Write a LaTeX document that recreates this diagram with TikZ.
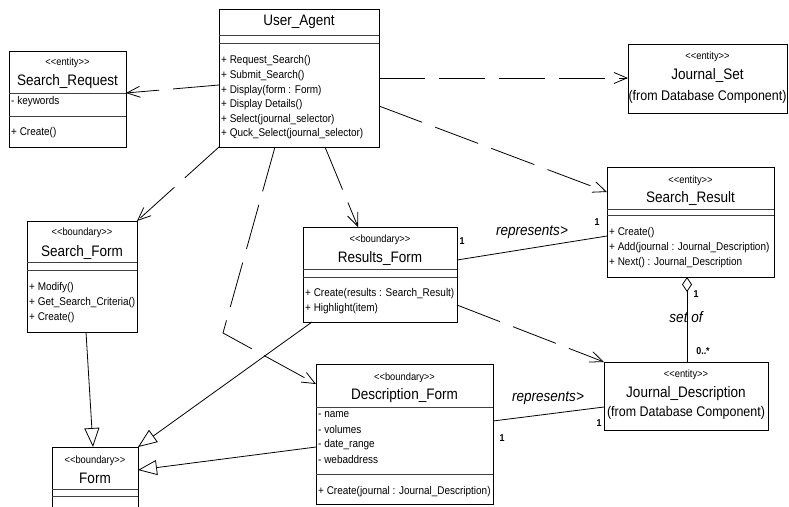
\documentclass[tikz,border=0pt]{standalone}
\usepackage{fontspec}
\setmainfont[FakeStretch=0.89]{Liberation Sans}
\usetikzlibrary{arrows.meta,calc}
\begin{document}
\begin{tikzpicture}[x=1pt,y=-1pt,
  classbox/.style={draw, line width=1pt, anchor=north west, inner sep=0pt, outer sep=0pt},
  divider/.style={line width=1pt, draw=black!75},
  stereo/.style={font=\fontsize{10.5}{12}\selectfont, inner sep=0pt},
  cname/.style={font=\fontsize{15.2}{18}\selectfont, inner sep=0pt},
  origin/.style={font=\fontsize{14}{16}\selectfont, inner sep=0pt},
  member/.style={font=\fontsize{11.2}{13}\selectfont, inner sep=0pt, anchor=west},
  mult/.style={font=\bfseries\fontsize{10}{12}\selectfont, inner sep=0pt},
  role/.style={font=\itshape\fontsize{15.2}{18}\selectfont, inner sep=0pt},
  dep/.style={line width=0.8pt, dash pattern=on 46pt off 14pt,
              -{Straight Barb[length=13pt,width=11pt]}},
  gen/.style={line width=0.8pt, -{Triangle[open,length=19pt,width=15pt]}},
  assoc/.style={line width=0.8pt},
  aggr/.style={line width=0.8pt, {Diamond[open,length=15pt,width=10pt]}-}]
\useasboundingbox (0,0) rectangle (789,506);
\clip (0,0) rectangle (789,506);
\fill[white] (0,0) rectangle (789,506);

% ---------- User_Agent ----------
\node[classbox, minimum width=160pt, minimum height=138pt] (ua) at (219,9) {};
\draw[divider] ($(ua.north west)+(0,26)$) -- ($(ua.north east)+(0,26)$);
\draw[divider] ($(ua.north west)+(0,34)$) -- ($(ua.north east)+(0,34)$);
\node[cname] (ua-n) at (299,22) {User\_Agent};
\foreach \t [count=\i from 0] in {{+ Request\_Search()},{+ Submit\_Search()},
  {+ Display(form : Form)},{+ Display Details()},{+ Select(journal\_selector)},
  {+ Quck\_Select(journal\_selector)}}
  \node[member] (ua-m\i) at (221,{61+14.6*\i}) {\t};

% ---------- Search_Request ----------
\node[classbox, minimum width=117pt, minimum height=96pt] (sreq) at (9,51) {};
\draw[divider] ($(sreq.north west)+(0,42)$) -- ($(sreq.north east)+(0,42)$);
\draw[divider] ($(sreq.north west)+(0,65)$) -- ($(sreq.north east)+(0,65)$);
\node[stereo] (sreq-s) at (67.5,63) {<{}<entity>{}>};
\node[cname] (sreq-n) at (67.5,82) {Search\_Request};
\node[member] (sreq-a) at (11,102) {- keywords};
\node[member] (sreq-m) at (11,133) {+ Create()};

% ---------- Journal_Set ----------
\node[classbox, minimum width=159pt, minimum height=69pt] (js) at (628,44) {};
\node[stereo] (js-s) at (707.5,57) {<{}<entity>{}>};
\node[cname] (js-n) at (707.5,76) {Journal\_Set};
\node[origin] (js-o) at (707.5,97) {(from Database Component)};

% ---------- Search_Result ----------
\node[classbox, minimum width=167pt, minimum height=110pt] (sres) at (607,167) {};
\draw[divider] ($(sres.north west)+(0,42)$) -- ($(sres.north east)+(0,42)$);
\draw[divider] ($(sres.north west)+(0,48)$) -- ($(sres.north east)+(0,48)$);
\node[stereo] (sres-s) at (690.5,181) {<{}<entity>{}>};
\node[cname] (sres-n) at (690.5,198) {Search\_Result};
\foreach \t [count=\i from 0] in {{+ Create()},{+ Add(journal : Journal\_Description)},
  {+ Next() : Journal\_Description}}
  \node[member] (sres-m\i) at (609,{232.5+15.2*\i}) {\t};

% ---------- Search_Form ----------
\node[classbox, minimum width=110pt, minimum height=111pt] (sform) at (27,221) {};
\draw[divider] ($(sform.north west)+(0,41)$) -- ($(sform.north east)+(0,41)$);
\draw[divider] ($(sform.north west)+(0,49)$) -- ($(sform.north east)+(0,49)$);
\node[stereo] (sform-s) at (82,233) {<{}<boundary>{}>};
\node[cname] (sform-n) at (82,252) {Search\_Form};
\foreach \t [count=\i from 0] in {{+ Modify()},{+ Get\_Search\_Criteria()},{+ Create()}}
  \node[member] (sform-m\i) at (29,{288+15*\i}) {\t};

% ---------- Results_Form ----------
\node[classbox, minimum width=154pt, minimum height=95pt] (rform) at (303,227) {};
\draw[divider] ($(rform.north west)+(0,42)$) -- ($(rform.north east)+(0,42)$);
\draw[divider] ($(rform.north west)+(0,50)$) -- ($(rform.north east)+(0,50)$);
\node[stereo] (rform-s) at (380,239.5) {<{}<boundary>{}>};
\node[cname] (rform-n) at (380,258) {Results\_Form};
\node[member] (rform-m0) at (305,294) {+ Create(results : Search\_Result)};
\node[member] (rform-m1) at (305,308.5) {+ Highlight(item)};

% ---------- Description_Form ----------
\node[classbox, minimum width=177pt, minimum height=140pt] (dform) at (316,364) {};
\draw[divider] ($(dform.north west)+(0,43)$) -- ($(dform.north east)+(0,43)$);
\draw[divider] ($(dform.north west)+(0,110)$) -- ($(dform.north east)+(0,110)$);
\node[stereo] (dform-s) at (404.5,378) {<{}<boundary>{}>};
\node[cname] (dform-n) at (404.5,395.5) {Description\_Form};
\foreach \t [count=\i from 0] in {{- name},{- volumes},{- date\_range},{- webaddress}}
  \node[member] (dform-a\i) at (318,{415+14.7*\i}) {\t};
\node[member] (dform-m0) at (318,492) {+ Create(journal : Journal\_Description)};

% ---------- Form ----------
\node[classbox, minimum width=86pt, minimum height=80pt] (form) at (52,447) {};
\draw[divider] ($(form.north west)+(0,42)$) -- ($(form.north east)+(0,42)$);
\draw[divider] ($(form.north west)+(0,49)$) -- ($(form.north east)+(0,49)$);
\node[stereo] (form-s) at (95,461) {<{}<boundary>{}>};
\node[cname] (form-n) at (95,478.5) {Form};

% ---------- Journal_Description ----------
\node[classbox, minimum width=164pt, minimum height=68pt] (jd) at (604,362) {};
\node[stereo] (jd-s) at (686,375) {<{}<entity>{}>};
\node[cname] (jd-n) at (686,393.5) {Journal\_Description};
\node[origin] (jd-o) at (686,413) {(from Database Component)};

% ---------- dependencies ----------
\draw[dep] ($(ua.north west)+(0,76)$) -- ($(sreq.north east)+(0,42)$);
\draw[dep] (ua.east) -- (ua.east -| js.west);
\draw[dep] ($(ua.north east)+(0,97)$) -- ($(sres.north west)+(0,25)$);
\draw[dep] (ua.south west) -- (sform.north east);
\draw[dep] ($(ua.south west)+(106,0)$) -- ($(rform.north west)+(55,0)$);
\coordinate (bend) at (223,333);
\draw[dep] ($(ua.south west)+(56,0)$) -- (bend) -- ($(dform.north west)+(0,20)$);
\draw[dep] ($(rform.north east)+(0,78)$) -- (jd.north west);

% ---------- associations ----------
\draw[assoc] ($(rform.north east)+(0,33)$) -- ($(sres.north west)+(0,69)$);
\draw[assoc] ($(dform.north east)+(0,57)$) -- ($(jd.north west)+(0,45)$);
\draw[aggr] ($(sres.south west)+(80,0)$) -- ($(jd.north west)+(83,0)$);

% ---------- generalizations ----------
\draw[gen] ($(sform.south west)+(59,0)$) -- ($(form.north west)+(41,0)$);
\draw[gen] ($(rform.south west)+(9,0)$) -- (form.north east);
\draw[gen] ($(dform.north west)+(0,83)$) -- ($(form.north east)+(0,23)$);

% ---------- association labels ----------
\node[role] (lab-r1) at (532,232) {represents>};
\node[mult] (lab-m1) at (462,241) {1};
\node[mult] (lab-m2) at (597,222) {1};
\node[role] (lab-r2) at (548,398) {represents>};
\node[mult] (lab-m3) at (502,438) {1};
\node[mult] (lab-m4) at (599,423) {1};
\node[mult] (lab-m5) at (696,294) {1};
\node[role] (lab-set) at (686,317) {set of};
\node[mult] (lab-m6) at (703,351) {0..*};
\end{tikzpicture}
\end{document}
